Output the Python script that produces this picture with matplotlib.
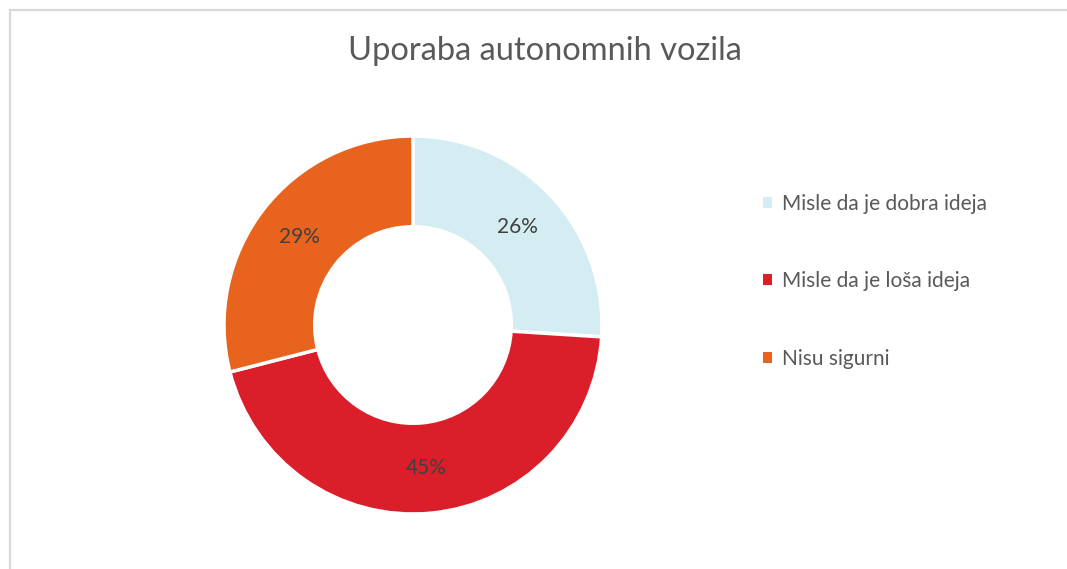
import matplotlib
matplotlib.use("Agg")
import matplotlib.pyplot as plt
from matplotlib.patches import Rectangle, Patch

categories = ["Misle da je dobra ideja", "Misle da je loša ideja", "Nisu sigurni"]
values = [26, 45, 29]
colors = ["#D3EDF3", "#DA1F2B", "#E8641E"]
title = "Uporaba autonomnih vozila"

plt.rcParams['font.family'] = ['Lato', 'DejaVu Sans']

W, H = 1067, 569
fig = plt.figure(figsize=(W / 100, H / 100), dpi=100)
fig.patch.set_facecolor("white")

# chart frame
fig.add_artist(Rectangle((10 / W, -0.05), 1.2, 1 - 10 / H + 0.05, transform=fig.transFigure,
                         fill=False, edgecolor="#D9D9D9", linewidth=1.6))

cx, cy, r = 413, H - 325, 189
ax = fig.add_axes([(cx - r) / W, (cy - r) / H, 2 * r / W, 2 * r / H])
wedges, texts, autotexts = ax.pie(
    values, colors=colors, startangle=90, counterclock=False, radius=1,
    autopct=lambda p: f"{p:.0f}%", pctdistance=0.76,
    wedgeprops=dict(width=0.48, edgecolor="white", linewidth=2.5),
    textprops=dict(color="#404040", fontsize=15))
ax.set_xlim(-1, 1)
ax.set_ylim(-1, 1)
ax.set_aspect("equal")
ax.axis("off")

fig.text(545 / W, 1 - 51 / H, title, ha="center", va="center", fontsize=23.5, color="#595959")

handles = [Patch(facecolor=c, edgecolor="none") for c in colors]
leg = fig.legend(handles, categories, loc="upper left", bbox_to_anchor=(763 / W, 1 - 194 / H),
                 frameon=False, fontsize=15, labelcolor="#595959", handlelength=0.45, handleheight=0.45,
                 handletextpad=0.45, labelspacing=2.75, borderpad=0, borderaxespad=0)

fig.savefig("out.png", dpi=100, facecolor="white")
